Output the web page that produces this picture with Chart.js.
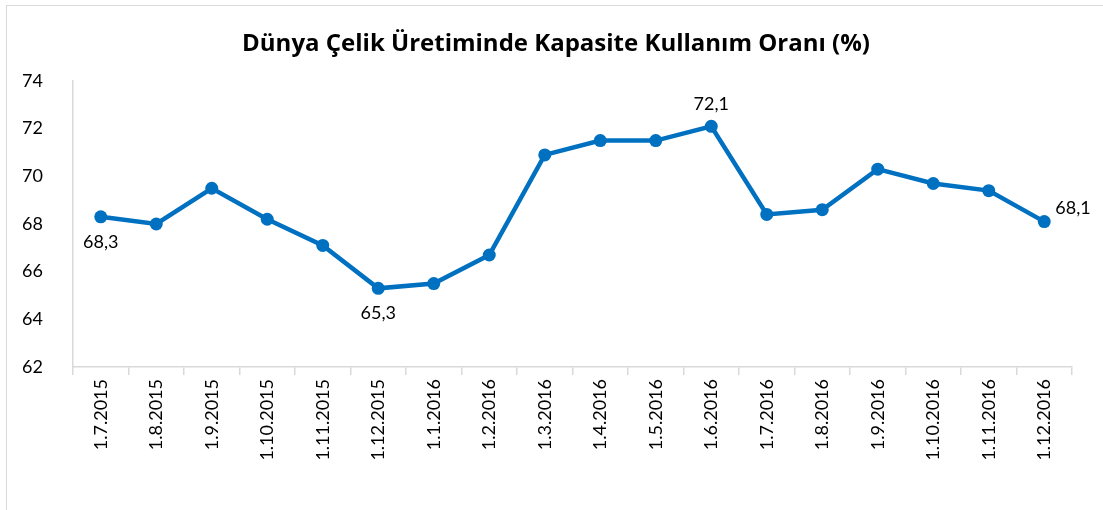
<!DOCTYPE html>
<html>
<head>
<meta charset="utf-8">
<script src="https://cdn.jsdelivr.net/npm/chart.js@4"></script>
<style>
  html, body { margin: 0; padding: 0; background: #fff; }
  #wrap { position: relative; width: 1103px; height: 510px; }
  #frame { position: absolute; left: 6px; top: 5px; right: -2px; bottom: -2px; border-left: 1px solid #d9d9d9; border-top: 1px solid #d9d9d9; }
  canvas { position: absolute; left: 0; top: 0; }
</style>
</head>
<body>
<div id="wrap">
  <div id="frame"></div>
  <canvas id="kapasiteChart" width="1103" height="510"></canvas>
</div>
<script>
const chartTitle = 'Dünya Çelik Üretiminde Kapasite Kullanım Oranı (%)';
const months = ['1.7.2015', '1.8.2015', '1.9.2015', '1.10.2015', '1.11.2015', '1.12.2015',
    '1.1.2016', '1.2.2016', '1.3.2016', '1.4.2016', '1.5.2016', '1.6.2016',
    '1.7.2016', '1.8.2016', '1.9.2016', '1.10.2016', '1.11.2016', '1.12.2016'];
const usageRate = [68.3, 68.0, 69.5, 68.2, 67.1, 65.3, 65.5, 66.7, 70.9, 71.5, 71.5, 72.1,
    68.4, 68.6, 70.3, 69.7, 69.4, 68.1];
// which points get a value label, and where
const labelledPoints = [0, 5, 11, 17];
const labelSide = ['below', 'below', 'above', 'right'];

const FONT = 'Lato, "Open Sans", sans-serif';

// başlık
const titlePlugin = {
    id: 'titleText',
    afterDraw(chart) {
        const ctx = chart.ctx;
        ctx.save();
        ctx.font = 'bold 24px "Open Sans", sans-serif';
        ctx.fillStyle = '#000';
        ctx.textAlign = 'center';
        ctx.textBaseline = 'middle';
        ctx.fillText(chartTitle, 556, 44);
        ctx.restore();
    }
};

// veri etiketleri
const valueLabels = {
    id: 'valueLabels',
    afterDatasetsDraw(chart) {
        const ctx = chart.ctx;
        const meta = chart.getDatasetMeta(0);
        ctx.save();
        ctx.font = '18px ' + FONT;
        ctx.fillStyle = '#000';
        labelledPoints.forEach((idx, i) => {
            const pt = meta.data[idx];
            const txt = usageRate[idx].toFixed(1).replace('.', ',');
            const side = labelSide[i];
            if (side === 'below') {
                ctx.textAlign = 'center'; ctx.textBaseline = 'middle';
                ctx.fillText(txt, pt.x, pt.y + 25);
            } else if (side === 'above') {
                ctx.textAlign = 'center'; ctx.textBaseline = 'middle';
                ctx.fillText(txt, pt.x, pt.y - 22);
            } else {
                ctx.textAlign = 'left'; ctx.textBaseline = 'middle';
                ctx.fillText(txt, pt.x + 11, pt.y - 13);
            }
        });
        ctx.restore();
    }
};

const ctx = document.getElementById('kapasiteChart').getContext('2d');
new Chart(ctx, {
    type: 'line',
    data: {
        labels: months,
        datasets: [{
            data: usageRate,
            borderColor: '#0070C0',
            backgroundColor: '#0070C0',
            borderWidth: 4.5,
            pointRadius: 6.5,
            pointHoverRadius: 6.5,
            pointBorderWidth: 0,
            tension: 0
        }]
    },
    options: {
        responsive: false,
        animation: false,
        layout: { padding: { top: 81, right: 31, left: 0, bottom: 0 } },
        plugins: {
            legend: { display: false },
            tooltip: { enabled: false }
        },
        scales: {
            x: {
                offset: true,
                grid: { offset: true, drawOnChartArea: false, color: '#d9d9d9', tickLength: 8, lineWidth: 1.5 },
                border: { color: '#d9d9d9', width: 1.5 },
                ticks: { color: '#000', font: { size: 18, family: FONT }, minRotation: 90, maxRotation: 90, padding: 4, autoSkip: false },
                afterFit(scale) { scale.height = 143; }
            },
            y: {
                min: 62,
                max: 74,
                grid: { display: false },
                border: { color: '#d9d9d9', width: 1.5 },
                ticks: { stepSize: 2, color: '#000', font: { size: 18, family: FONT }, padding: 22 },
                afterFit(scale) { scale.width = 73; }
            }
        }
    },
    plugins: [titlePlugin, valueLabels]
});
</script>
</body>
</html>
